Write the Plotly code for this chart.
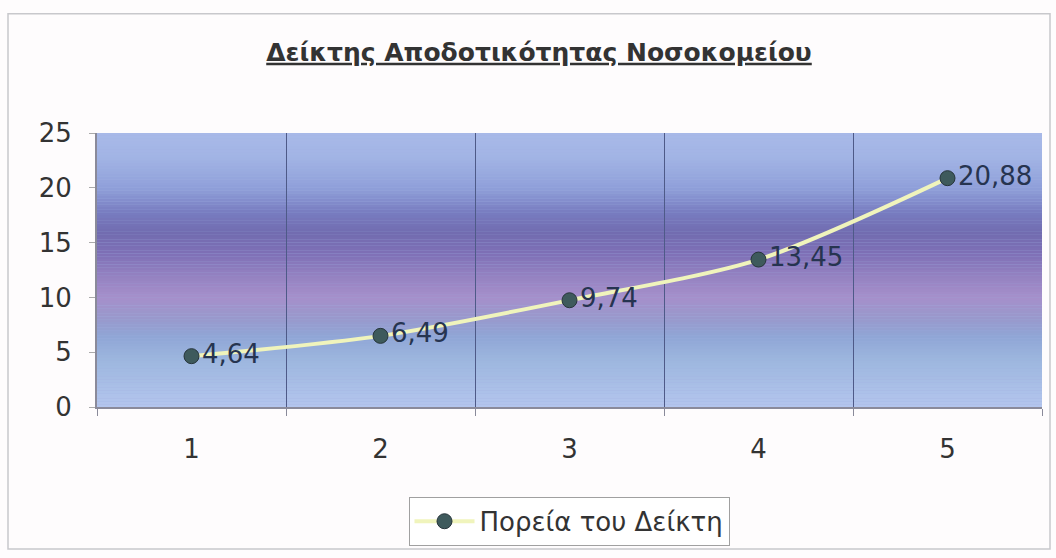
import plotly.graph_objects as go
import numpy as np

categories = [1, 2, 3, 4, 5]
values = [4.64, 6.49, 9.74, 13.45, 20.88]
labels = ["4,64", "6,49", "9,74", "13,45", "20,88"]
y_ticks = [0, 5, 10, 15, 20, 25]
title_text = "Δείκτης Αποδοτικότητας Νοσοκομείου"
series_name = "Πορεία του Δείκτη"

W, H = 1056, 558
L, R, T, B = 97, 14, 133, 147

# background gradient stops (value on y axis, colour)
stops = [
    (0.0, (0xb4, 0xc6, 0xee)),
    (2.3, (0xa8, 0xbe, 0xe6)),
    (4.5, (0x9c, 0xb6, 0xde)),
    (6.4, (0x90, 0xa6, 0xd6)),
    (8.2, (0x9a, 0x98, 0xcc)),
    (10.0, (0xa6, 0x90, 0xcb)),
    (11.8, (0x96, 0x83, 0xc2)),
    (14.1, (0x7e, 0x70, 0xb6)),
    (15.9, (0x72, 0x6c, 0xb0)),
    (17.7, (0x78, 0x7c, 0xc0)),
    (20.0, (0x90, 0xa0, 0xda)),
    (22.7, (0xa2, 0xb4, 0xe5)),
    (25.0, (0xa9, 0xba, 0xe9)),
]
sv = np.array([s[0] for s in stops])
sc = np.array([s[1] for s in stops], dtype=float)

shapes = []
n = 100
edges = np.linspace(0, 25, n + 1)
for i in range(n):
    mid = (edges[i] + edges[i + 1]) / 2
    col = [np.interp(mid, sv, sc[:, k]) for k in range(3)]
    shapes.append(dict(type="rect", xref="x domain", yref="y",
                       x0=0, x1=1, y0=edges[i], y1=edges[i + 1] + 0.01,
                       fillcolor="rgb(%d,%d,%d)" % tuple(int(c) for c in col),
                       line=dict(width=0), layer="below"))

# outer chart border
pw, ph = W - L - R, H - T - B
def px_x(x): return (x - L) / pw
def px_y(y): return (H - B - y) / ph
shapes.append(dict(type="rect", xref="paper", yref="paper",
                   x0=px_x(8), x1=px_x(1050), y0=px_y(12), y1=px_y(555),
                   line=dict(color="#c8c8cc", width=1.5), fillcolor="rgba(0,0,0,0)",
                   layer="below"))

FONT = "DejaVu Sans, Liberation Sans, sans-serif"

fig = go.Figure()
fig.add_trace(go.Scatter(
    x=categories, y=values, text=labels, name=series_name,
    mode="lines+markers+text", textposition="middle right",
    line=dict(color="#f0f4bc", width=4, shape="spline", smoothing=0.8),
    marker=dict(color="#3e5a5c", size=15, line=dict(color="#26343a", width=1)),
    textfont=dict(family=FONT, size=26, color="#263450"),
    cliponaxis=False,
))

fig.update_layout(
    width=W, height=H,
    margin=dict(l=L, r=R, t=T, b=B),
    paper_bgcolor="#fefcfd",
    plot_bgcolor="#a0b0e0",
    shapes=shapes,
    title=dict(text="<b><u>" + title_text + "</u></b>", x=px_x(539), xref="paper",
               xanchor="center", y=1 - 52 / H, yanchor="middle",
               font=dict(family=FONT, size=25, color="#333333")),
    showlegend=True,
    legend=dict(orientation="h", x=px_x(569), y=px_y(527), xanchor="center", yanchor="middle",
                bgcolor="#ffffff", bordercolor="#a0a0a0", borderwidth=1,
                itemwidth=60,
                font=dict(family=FONT, size=26, color="#333333")),
    xaxis=dict(range=[0.5, 5.5], tickmode="array", tickvals=categories,
               ticktext=[str(c) for c in categories], showgrid=False, zeroline=False,
               showline=True, linecolor="#8a8a9a", linewidth=2, ticks="",
               ticklabelstandoff=18,
               minor=dict(tick0=0.5, dtick=1, showgrid=True, gridcolor="#4e5a88",
                          gridwidth=1, ticks="outside", ticklen=7, tickcolor="#8a8a9a"),
               tickfont=dict(family=FONT, size=26, color="#333333")),
    yaxis=dict(range=[0, 25], tickvals=y_ticks, showgrid=False, zeroline=False,
               showline=True, linecolor="#8a8a9a", linewidth=2, ticks="outside",
               ticklen=6, tickcolor="#aaaaaa", ticklabelstandoff=12,
               tickfont=dict(family=FONT, size=26, color="#333333")),
    font=dict(family=FONT),
)

fig.write_html("out.html", config={"displayModeBar": False},
               post_script="document.body.style.margin='0';")
